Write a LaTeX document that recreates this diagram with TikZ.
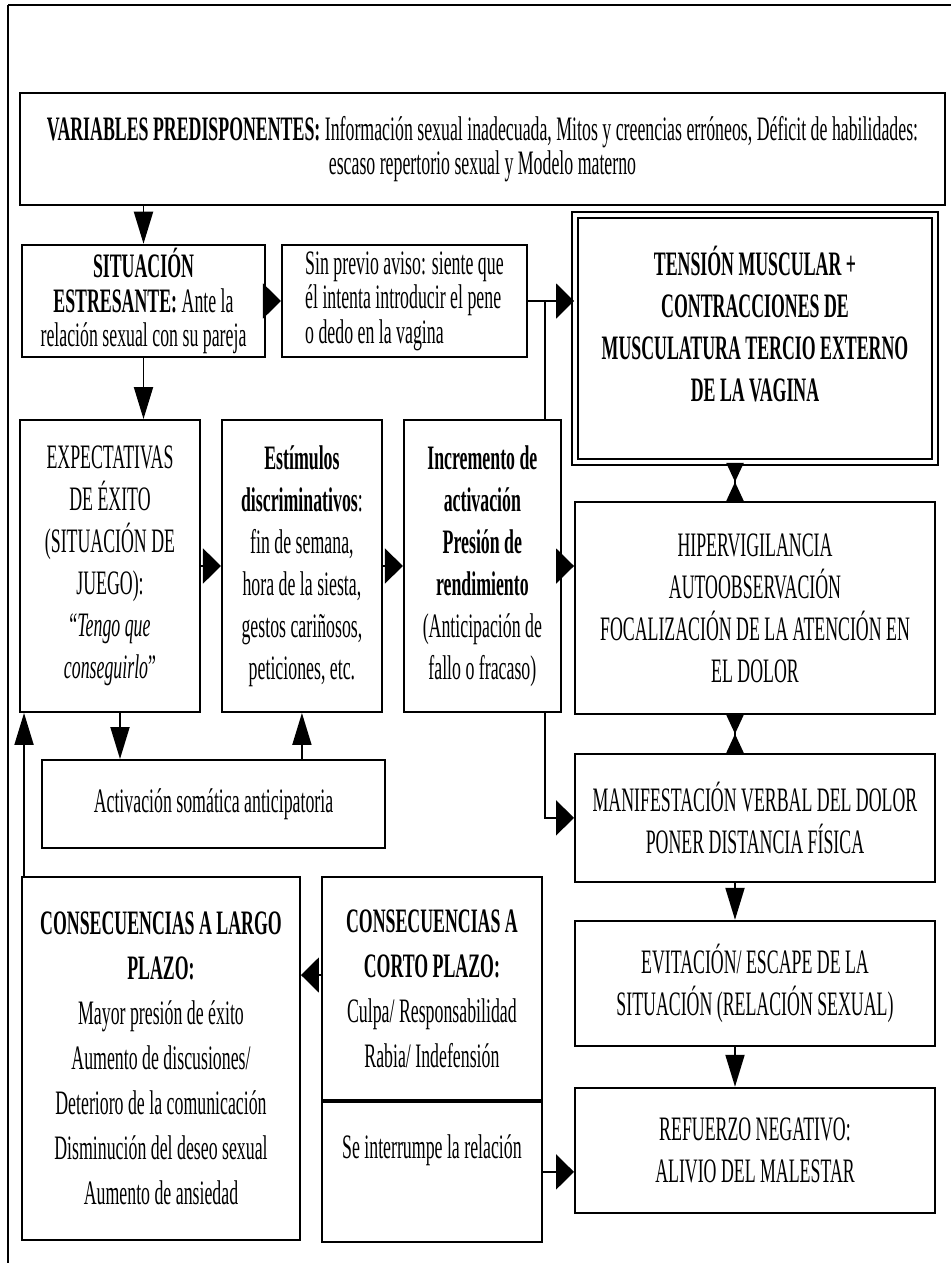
\documentclass[tikz,border=0pt]{standalone}
\usepackage{fontspec}
\setmainfont[FakeStretch=0.52]{Liberation Serif}
\usepackage{tikz}
\usetikzlibrary{arrows.meta, positioning}
\newcommand{\bodyfs}{\fontsize{19.5pt}{23.9pt}\selectfont}
\newcommand{\toprowfs}{\fontsize{19.5pt}{19.6pt}\selectfont}
\newcommand{\loosefs}{\fontsize{19.5pt}{25.6pt}\selectfont}

\begin{document}
\begin{tikzpicture}[
    box/.style={rectangle, draw, line width=1.1pt, align=center, inner sep=2pt, font=\bodyfs},
    toprow/.style={box, font=\toprowfs},
    loose/.style={box, font=\loosefs},
    harrow/.style={-{Triangle[length=0.36cm, width=0.7cm]}, line width=1.1pt},
    varrow/.style={-{Triangle[length=0.64cm, width=0.38cm]}, line width=1.1pt},
    hourglass/.style={{Triangle[reversed, length=0.38cm, width=0.34cm]}-{Triangle[reversed, length=0.38cm, width=0.34cm]}, line width=1.1pt}
]
\useasboundingbox (0,0) rectangle (19.02,-25.26);
\draw[line width=1.4pt] (0.16,-0.1) -- (19.02,-0.1);
\draw[line width=0.7pt] (0.16,-0.1) -- (0.16,-25.26);

\node[toprow, minimum width=18.5cm, minimum height=2.24cm] (var) at (9.65,-2.98) {\textbf{VARIABLES PREDISPONENTES:} Información sexual inadecuada, Mitos y creencias erróneos, Déficit de habilidades:\\ escaso repertorio sexual y Modelo materno};
\node[toprow, minimum width=4.86cm, minimum height=2.24cm] (sit) at (2.87,-6.02) {\textbf{SITUACIÓN}\\ \textbf{ESTRESANTE:} Ante la\\ relación sexual con su pareja};
\node[toprow, align=left, minimum width=4.9cm, minimum height=2.24cm, right=0.3cm of sit] (aviso) {Sin previo aviso: siente que\\ él intenta introducir el pene\\ o dedo en la vagina};
\node[box, double, double distance=2.4pt, minimum width=7.2cm, minimum height=4.94cm, text depth=0.6cm] (tension) at (15.1,-6.77) {\textbf{TENSIÓN MUSCULAR +}\\ \textbf{CONTRACCIONES DE}\\ \textbf{MUSCULATURA TERCIO EXTERNO}\\ \textbf{DE LA VAGINA}};

\node[box, minimum width=3.6cm, minimum height=5.84cm] (exp) at (2.2,-11.32) {EXPECTATIVAS\\ DE ÉXITO\\ (SITUACIÓN DE\\ JUEGO):\\ “\textit{Tengo que}\\ \textit{conseguirlo}”};
\node[box, minimum width=3.2cm, minimum height=5.84cm, right=0.4cm of exp] (est) {\textbf{Estímulos}\\ \textbf{discriminativos}:\\ fin de semana,\\ hora de la siesta,\\ gestos cariñosos,\\ peticiones, etc.};
\node[box, minimum width=3.14cm, minimum height=5.84cm, right=0.4cm of est] (inc) {\textbf{Incremento de}\\ \textbf{activación}\\ \textbf{Presión de}\\ \textbf{rendimiento}\\ (Anticipación de\\ fallo o fracaso)};
\node[box, minimum width=7.2cm, minimum height=4.24cm, below=0.76cm of tension] (hiper) {HIPERVIGILANCIA\\ AUTOOBSERVACIÓN\\ FOCALIZACIÓN DE LA ATENCIÓN EN\\ EL DOLOR};
\node[box, minimum width=7.2cm, minimum height=2.56cm, below=0.76cm of hiper] (manif) {MANIFESTACIÓN VERBAL DEL DOLOR\\ PONER DISTANCIA FÍSICA};
\node[box, minimum width=7.2cm, minimum height=2.5cm, below=0.74cm of manif] (evit) {EVITACIÓN/ ESCAPE DE LA\\ SITUACIÓN (RELACIÓN SEXUAL)};
\node[box, minimum width=7.2cm, minimum height=2.5cm, below=0.8cm of evit] (refuerzo) {REFUERZO NEGATIVO:\\ ALIVIO DEL MALESTAR};

\node[box, minimum width=6.86cm, minimum height=1.76cm] (activ) at (4.27,-16.08) {Activación somática anticipatoria};
\node[loose, minimum width=5.56cm, minimum height=7.26cm] (largo) at (3.22,-21.17) {\textbf{CONSECUENCIAS A LARGO}\\ \textbf{PLAZO:}\\ Mayor presión de éxito\\ Aumento de discusiones/\\ Deterioro de la comunicación\\ Disminución del deseo sexual\\ Aumento de ansiedad};
\node[loose, minimum width=4.4cm, minimum height=4.46cm, right=0.4cm of largo.north east, anchor=north west] (corto) {\textbf{CONSECUENCIAS A}\\ \textbf{CORTO PLAZO:}\\ Culpa/ Responsabilidad\\ Rabia/ Indefensión};
\node[box, minimum width=4.4cm, minimum height=2.8cm, text depth=1cm, below=0cm of corto] (interr) {Se interrumpe la relación};

\coordinate (riser) at ([xshift=-0.34cm]inc.north east);
\coordinate (drop) at ([xshift=-0.34cm]inc.south east);

\draw[varrow] (var.south -| sit.north) -- (sit.north);
\draw[harrow] (sit) -- (aviso);
\draw[varrow] (sit.south) -- (sit.south |- exp.north);
\draw[harrow] (aviso.east) -- (aviso.east -| tension.west);
\draw[line width=1.1pt] (riser) -- (riser |- aviso.east);
\draw[harrow] (exp) -- (est);
\draw[harrow] (est) -- (inc);
\draw[harrow] (inc.east) -- (inc.east -| hiper.west);
\draw[harrow] (drop) |- (manif.west);
\draw[hourglass] ([xshift=-0.4cm]tension.south) -- ([xshift=-0.4cm]hiper.north);
\draw[hourglass] ([xshift=-0.4cm]hiper.south) -- ([xshift=-0.4cm]manif.north);
\draw[varrow] ([xshift=-0.4cm]manif.south) -- ([xshift=-0.4cm]evit.north);
\draw[varrow] ([xshift=-0.4cm]evit.south) -- ([xshift=-0.4cm]refuerzo.north);
\draw[varrow] ([xshift=0.2cm]exp.south) -- ([xshift=0.2cm]exp.south |- activ.north);
\draw[varrow] (est.south |- activ.north) -- (est.south);
\draw[harrow] ([yshift=0.27cm]corto.west) -- ([yshift=0.27cm]corto.west -| largo.east);
\draw[harrow] (interr.east) -- (interr.east -| refuerzo.west);
\draw[varrow] ([xshift=0.06cm]largo.north west) -- ([xshift=0.06cm]largo.north west |- exp.south);
\end{tikzpicture}
\end{document}
